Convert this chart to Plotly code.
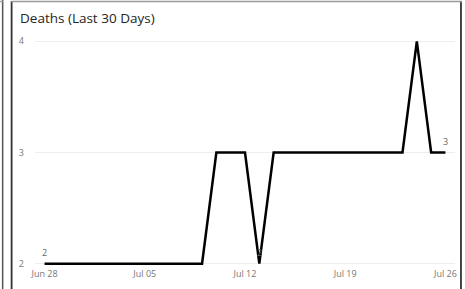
import plotly.graph_objects as go
import pandas as pd

dates = pd.date_range("2020-06-28", "2020-07-26", freq="D").strftime("%Y-%m-%d").tolist()
deaths = [2, 2, 2, 2, 2, 2, 2, 2, 2, 2, 2, 2,  # Jun 28 - Jul 09
          3, 3, 3,                             # Jul 10 - Jul 12
          2,                                   # Jul 13
          3, 3, 3, 3, 3, 3, 3, 3, 3, 3,        # Jul 14 - Jul 23
          4,                                   # Jul 24
          3, 3]                                # Jul 25 - Jul 26
label_idx = [0, 15, len(deaths) - 1]

tick_vals = ["2020-06-28", "2020-07-05", "2020-07-12", "2020-07-19", "2020-07-26"]
tick_text = ["Jun 28", "Jul 05", "Jul 12", "Jul 19", "Jul 26"]
y_ticks = [2, 3, 4]

fig = go.Figure()
fig.add_trace(go.Scatter(
    x=dates, y=deaths, mode="lines",
    line=dict(color="#000000", width=2.5),
    cliponaxis=False, hoverinfo="x+y",
))

annotations = [
    dict(x=dates[i], y=deaths[i], xref="x", yref="y", text=str(deaths[i]), showarrow=False,
         yshift=11, font=dict(family="Open Sans", size=9, color="#666666"))
    for i in label_idx
]

W, H = 465, 289
ml, mr, mt, mb = 35, 8, 38, 22
pw, ph = W - ml - mr, H - mt - mb

def px(xpix):
    return (xpix - ml) / pw

def py(ypix):
    return 1 - (ypix - mt) / ph

shapes = [
    dict(type="line", xref="paper", yref="paper", x0=px(2.5), x1=px(2.5), y0=py(0), y1=py(300),
         line=dict(color="#555555", width=1.5)),
    dict(type="line", xref="paper", yref="paper", x0=px(11.5), x1=px(11.5), y0=py(1), y1=py(300),
         line=dict(color="#333333", width=1.8)),
    dict(type="line", xref="paper", yref="paper", x0=px(463), x1=px(463), y0=py(1), y1=py(300),
         line=dict(color="#333333", width=1.8)),
    dict(type="line", xref="paper", yref="paper", x0=px(11), x1=px(464), y0=py(1.5), y1=py(1.5),
         line=dict(color="#999999", width=1.5)),
    dict(type="line", xref="paper", yref="paper", x0=px(0), x1=px(3), y0=py(1.5), y1=py(1.5),
         line=dict(color="#999999", width=1.5)),
]

fig.update_layout(
    width=W, height=H,
    margin=dict(l=ml, r=mr, t=mt, b=mb),
    paper_bgcolor="white", plot_bgcolor="white",
    showlegend=False,
    title=dict(text="Deaths (Last 30 Days)", x=20 / W, xanchor="left", xref="container",
               y=1 - 18 / H, yanchor="middle", yref="container",
               font=dict(family="Open Sans", size=13.5, color="#252423")),
    xaxis=dict(range=["2020-06-27 08:00", "2020-07-26 16:00"], tickvals=tick_vals, ticktext=tick_text,
               showgrid=False, zeroline=False, showline=False, ticks="",
               tickfont=dict(family="Open Sans", size=9, color="#777777")),
    yaxis=dict(range=[1.97, 4.03], tickvals=y_ticks, ticktext=[str(v) for v in y_ticks],
               showgrid=True, gridcolor="#eeeeee", gridwidth=1, zeroline=False, showline=False,
               ticks="", ticklabelstandoff=10,
               tickfont=dict(family="Open Sans", size=9, color="#777777")),
    shapes=shapes,
    annotations=annotations,
)

fig.write_html("out.html", config={"displayModeBar": False},
               post_script="document.body.style.margin='0';document.body.style.overflow='hidden';")
